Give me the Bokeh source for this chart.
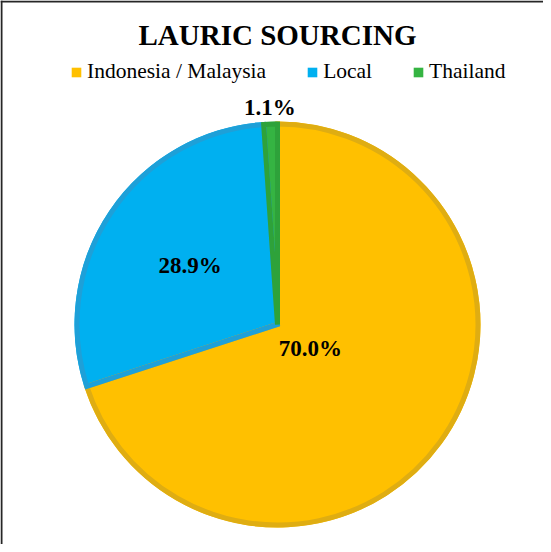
import numpy as np
from bokeh.plotting import figure
from bokeh.models import Range1d, Label, Legend, LegendItem, BoxAnnotation, ColumnDataSource
from bokeh.core.properties import value
from bokeh.embed import file_html
from bokeh.resources import INLINE

# ---- data ----
categories = ["Indonesia / Malaysia", "Local", "Thailand"]
shares = [70.0, 28.9, 1.1]
label_texts = ["70.0%", "28.9%", "1.1%"]

# ---- styles ----
fill_colors = ["#FFC000", "#00B0F0", "#35B442"]
edge_colors = ["#DFAD12", "#1EA0D8", "#2EA23A"]
label_radius_frac = [0.20, 0.52, 1.07]
W, H = 543, 544
CX, CY, R = 277, 220, 203
FONT = "Liberation Serif"

vals = np.array(shares, dtype=float)
frac = vals / vals.sum()
cum_end = np.cumsum(frac)
cum_start = cum_end - frac
start_angle = np.pi / 2 - cum_start * 2 * np.pi
end_angle = np.pi / 2 - cum_end * 2 * np.pi
mid_angle = np.pi / 2 - (cum_start + frac / 2) * 2 * np.pi
lx = CX + np.array(label_radius_frac) * R * np.cos(mid_angle)
ly = CY + np.array(label_radius_frac) * R * np.sin(mid_angle)

src = ColumnDataSource(dict(
    cat=categories, start=start_angle, end=end_angle,
    fill=fill_colors, edge=edge_colors, lx=lx, ly=ly, txt=label_texts,
))

p = figure(width=W, height=H, output_backend="svg", toolbar_location=None,
           x_range=Range1d(0, W), y_range=Range1d(0, H), min_border=0)
p.axis.visible = False
p.grid.visible = False
p.outline_line_color = None
p.background_fill_color = "white"
p.border_fill_color = "white"

fill_r = p.wedge(x=CX, y=CY, radius=R, start_angle="start", end_angle="end",
                 direction="clock", fill_color="fill", line_color=None, source=src)
p.wedge(x=CX, y=CY, radius=R - 2.5, start_angle="start", end_angle="end",
        direction="clock", fill_color=None, line_color="edge", line_width=5,
        line_join="miter", source=src)

p.text(x="lx", y="ly", text="txt", source=src, text_font=value(FONT),
       text_font_style="bold", text_font_size="23px", text_align="center",
       text_baseline="middle", text_color="black")

p.add_layout(Label(x=277, y=510, text="LAURIC SOURCING", text_font=FONT,
                   text_font_style="bold", text_font_size="29px",
                   text_align="center", text_baseline="middle", text_color="black"))

legend = Legend(items=[LegendItem(label=c, renderers=[fill_r], index=i)
                       for i, c in enumerate(categories)],
                orientation="horizontal", location=(70, 460),
                glyph_width=12, glyph_height=12, label_standoff=5, spacing=40,
                padding=0, margin=0, border_line_color=None,
                background_fill_alpha=0)
legend.label_text_font = FONT
legend.label_text_font_size = "21.5px"
legend.label_text_color = "black"
p.add_layout(legend)

# chart-area border (left and top edges; right/bottom lie outside the crop)
p.add_layout(BoxAnnotation(left=0, right=2, bottom=0, top=H, fill_color="#262626",
                           fill_alpha=1, line_color=None))
p.add_layout(BoxAnnotation(left=0, right=W, bottom=H - 2, top=H, fill_color="#262626",
                           fill_alpha=1, line_color=None))

open("out.html", "w").write(file_html(p, INLINE))
